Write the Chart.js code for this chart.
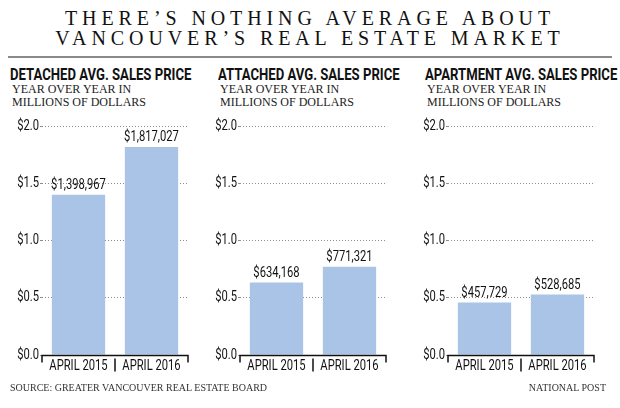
<!DOCTYPE html>
<html>
<head>
<meta charset="utf-8">
<script src="https://cdn.jsdelivr.net/npm/chart.js@4"></script>
<style>
    html, body { margin: 0; padding: 0; background: #fff; }
    body { width: 620px; height: 408px; position: relative; overflow: hidden; }
    .title {
        position: absolute; left: 0; top: 8px; width: 620px; text-align: center;
        font-family: 'Liberation Serif', 'DejaVu Serif', serif; font-size: 20px;
        line-height: 20px; letter-spacing: 4.9px; color: #111;
    }
    .rule { position: absolute; left: 8px; top: 56px; width: 604px; height: 2px; background: #8a8a8a; }
    .heading {
        position: absolute; top: 65px;
        font-family: Roboto, sans-serif;
        font-weight: bold; font-size: 16px; color: #111; white-space: nowrap;
        transform-origin: 0 0;
    }
    .sub {
        position: absolute; top: 83px;
        font-family: 'Liberation Serif', 'DejaVu Serif', serif;
        font-size: 12px; line-height: 13px; color: #222;
    }
    .footer {
        position: absolute; top: 382px;
        font-family: 'Liberation Serif', 'DejaVu Serif', serif;
        font-size: 10px; color: #333;
    }
    canvas { position: absolute; top: 110px; }
</style>
</head>
<body>
<div class="title">THERE’S NOTHING AVERAGE ABOUT<br>VANCOUVER’S REAL ESTATE MARKET</div>
<div class="rule"></div>
<div id="panels"></div>
<div class="footer" style="left:10px">SOURCE: GREATER VANCOUVER REAL ESTATE BOARD</div>
<div class="footer" style="right:14px">NATIONAL POST</div>

<script>
// Average sales prices, Greater Vancouver, April year over year
const categories = ['APRIL 2015', 'APRIL 2016'];
const detachedPrices = [1398967, 1817027];
const attachedPrices = [634168, 771321];
const apartmentPrices = [457729, 528685];
const yTicks = [0, 0.5, 1.0, 1.5, 2.0];
const panelTitles = ['DETACHED AVG. SALES PRICE', 'ATTACHED AVG. SALES PRICE', 'APARTMENT AVG. SALES PRICE'];

const BAR_COLOR = '#a9c4e6';
const LABEL_FONT = '14px Roboto, sans-serif';
const SQUEEZE = 0.8; // no condensed face installed, so squeeze Roboto

const panels = [
    { prices: detachedPrices, left: 0, headX: 10 },
    { prices: attachedPrices, left: 198, headX: 218 },
    { prices: apartmentPrices, left: 406, headX: 425 }
];

function narrowText(ctx, text, x, y, align, baseline) {
    ctx.save();
    ctx.font = LABEL_FONT;
    ctx.fillStyle = '#111';
    ctx.textAlign = align;
    ctx.textBaseline = baseline;
    ctx.translate(x, y);
    ctx.scale(SQUEEZE, 1);
    ctx.fillText(text, 0, 0);
    ctx.restore();
}

// tick labels, value labels and the bracket-style baseline
const panelDecor = {
    id: 'panelDecor',
    afterDraw(chart) {
        const { ctx, chartArea } = chart;
        const xs = chart.scales.x;
        const ys = chart.scales.y;
        const prices = chart.config.options.plugins.panelDecor.prices;

        yTicks.forEach(v => {
            narrowText(ctx, '$' + v.toFixed(1), chartArea.left - 3, ys.getPixelForValue(v), 'right', 'middle');
        });

        chart.getDatasetMeta(0).data.forEach((bar, i) => {
            narrowText(ctx, '$' + prices[i].toLocaleString('en-US'), bar.x, bar.y - 2, 'center', 'bottom');
        });

        const base = Math.round(chartArea.bottom) + 0.5;
        categories.forEach((c, i) => {
            narrowText(ctx, c, xs.getPixelForValue(i), base + 11, 'center', 'middle');
        });

        ctx.save();
        ctx.strokeStyle = '#111';
        ctx.lineWidth = 1.5;
        ctx.beginPath();
        ctx.moveTo(chartArea.left, base + 7);
        ctx.lineTo(chartArea.left, base);
        ctx.lineTo(chartArea.right, base);
        ctx.lineTo(chartArea.right, base + 7);
        const mid = (xs.getPixelForValue(0) + xs.getPixelForValue(1)) / 2;
        ctx.moveTo(mid, base + 3);
        ctx.lineTo(mid, base + 16);
        ctx.stroke();
        ctx.restore();
    }
};

function buildPanel(panel, index) {
    const holder = document.getElementById('panels');

    const head = document.createElement('div');
    head.className = 'heading';
    head.style.left = panel.headX + 'px';
    head.textContent = panelTitles[index];
    head.style.transform = 'scaleX(0.82)';
    holder.appendChild(head);

    const sub = document.createElement('div');
    sub.className = 'sub';
    sub.style.left = (panel.headX + 2) + 'px';
    sub.innerHTML = 'YEAR OVER YEAR IN<br>MILLIONS OF DOLLARS';
    holder.appendChild(sub);

    const canvas = document.createElement('canvas');
    canvas.width = 200;
    canvas.height = 275;
    canvas.style.left = panel.left + 'px';
    holder.appendChild(canvas);

    new Chart(canvas.getContext('2d'), {
        type: 'bar',
        data: {
            labels: categories,
            datasets: [{
                data: panel.prices.map(p => p / 1e6),
                backgroundColor: BAR_COLOR,
                borderWidth: 0,
                barPercentage: 0.73,
                categoryPercentage: 1
            }]
        },
        options: {
            responsive: false,
            animation: false,
            layout: { padding: { top: 16, right: 12, left: 0, bottom: 0 } },
            plugins: {
                legend: { display: false },
                tooltip: { enabled: false },
                panelDecor: { prices: panel.prices }
            },
            scales: {
                x: {
                    grid: { display: false },
                    border: { display: false },
                    ticks: { display: false },
                    afterFit(scale) { scale.height = 30; }
                },
                y: {
                    min: 0,
                    max: 2,
                    afterBuildTicks(scale) { scale.ticks = yTicks.map(v => ({ value: v })); },
                    grid: { color: '#8c8c8c', lineWidth: 1, tickLength: 2 },
                    border: { display: false, dash: [1, 2] },
                    ticks: { display: false },
                    afterFit(scale) { scale.width = 42; }
                }
            }
        },
        plugins: [panelDecor]
    });
}

panels.forEach(buildPanel);
</script>
</body>
</html>
